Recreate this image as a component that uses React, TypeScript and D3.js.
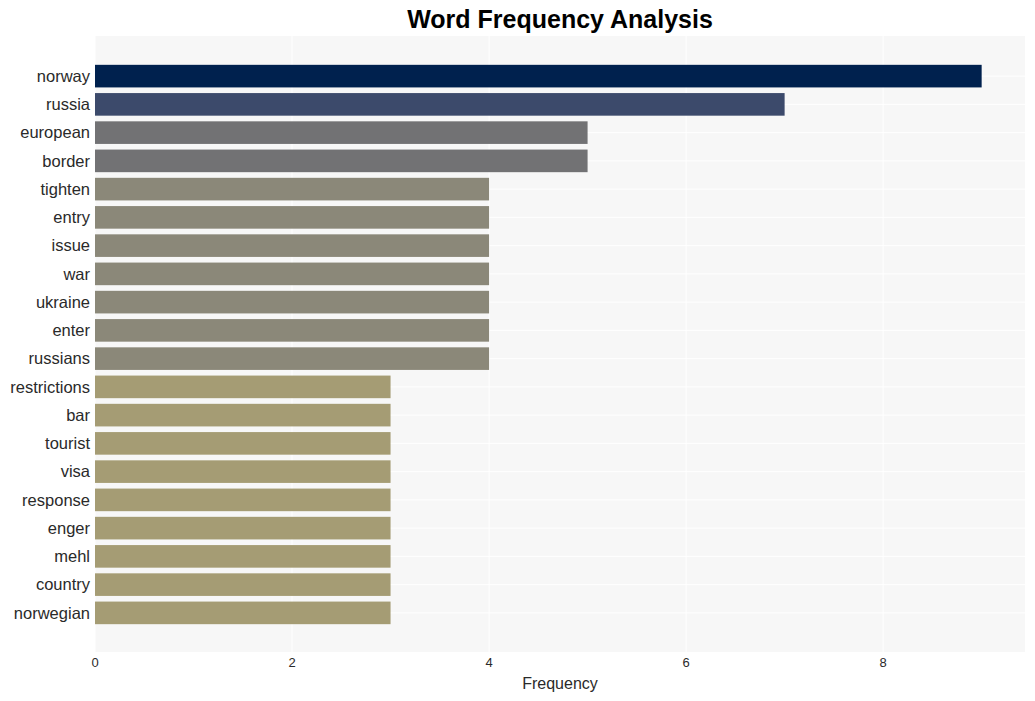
import { useEffect, useRef } from 'react';
import * as d3 from 'd3';

const words = ['norway', 'russia', 'european', 'border', 'tighten', 'entry', 'issue', 'war', 'ukraine', 'enter',
  'russians', 'restrictions', 'bar', 'tourist', 'visa', 'response', 'enger', 'mehl', 'country', 'norwegian'];
const counts = [9, 7, 5, 5, 4, 4, 4, 4, 4, 4, 4, 3, 3, 3, 3, 3, 3, 3, 3, 3];
const xTicks = [0, 2, 4, 6, 8];

const width = 1035;
const height = 701;
const left = 95;
const right = 1025;
const top = 36;
const bottom = 652;

function barColor(v: number) {
  if (v >= 9) return '#00214e';
  if (v >= 7) return '#3c4a6b';
  if (v >= 5) return '#727274';
  if (v >= 4) return '#8b8879';
  return '#a59c74';
}

export default function App() {
  const ref = useRef<SVGSVGElement>(null);

  useEffect(() => {
    const svg = d3.select(ref.current);
    svg.selectAll('*').remove();

    const x = d3.scaleLinear().domain([0, 9.44]).range([left, right]);
    const y = d3.scaleBand().domain(words).range([62, 627]).paddingInner(0.2).paddingOuter(0.1);

    svg.append('rect')
      .attr('x', left).attr('y', top)
      .attr('width', right - left).attr('height', bottom - top)
      .attr('fill', '#f7f7f7');

    // grid
    svg.selectAll('line.vgrid')
      .data(xTicks)
      .join('line')
      .attr('x1', d => x(d)).attr('x2', d => x(d))
      .attr('y1', top).attr('y2', bottom)
      .attr('stroke', '#ffffff').attr('stroke-width', 1);

    svg.selectAll('line.hgrid')
      .data(words)
      .join('line')
      .attr('x1', left).attr('x2', right)
      .attr('y1', d => y(d)! + y.bandwidth() / 2)
      .attr('y2', d => y(d)! + y.bandwidth() / 2)
      .attr('stroke', '#ffffff').attr('stroke-width', 1);

    svg.selectAll('rect.bar')
      .data(words)
      .join('rect')
      .attr('x', x(0))
      .attr('y', d => y(d)!)
      .attr('width', (d, i) => x(counts[i]) - x(0))
      .attr('height', y.bandwidth())
      .attr('fill', (d, i) => barColor(counts[i]));

    svg.selectAll('text.ylab')
      .data(words)
      .join('text')
      .attr('x', left - 5)
      .attr('y', d => y(d)! + y.bandwidth() / 2)
      .attr('dy', '0.35em')
      .attr('text-anchor', 'end')
      .attr('font-size', 16.5)
      .attr('fill', '#2a2a2a')
      .text(d => d);

    svg.selectAll('text.xlab')
      .data(xTicks)
      .join('text')
      .attr('x', d => x(d))
      .attr('y', 667)
      .attr('text-anchor', 'middle')
      .attr('font-size', 13)
      .attr('fill', '#2a2a2a')
      .text(d => d);

    svg.append('text')
      .attr('x', (left + right) / 2)
      .attr('y', 689)
      .attr('text-anchor', 'middle')
      .attr('font-size', 16)
      .attr('fill', '#2a2a2a')
      .text('Frequency');

    svg.append('text')
      .attr('x', (left + right) / 2)
      .attr('y', 28)
      .attr('text-anchor', 'middle')
      .attr('font-size', 25)
      .attr('font-weight', 'bold')
      .attr('fill', '#000')
      .text('Word Frequency Analysis');
  }, []);

  return (
    <svg ref={ref} width={width} height={height}
      style={{ position: 'absolute', left: 0, top: 0, fontFamily: 'Liberation Sans, Arial, sans-serif' }} />
  );
}
